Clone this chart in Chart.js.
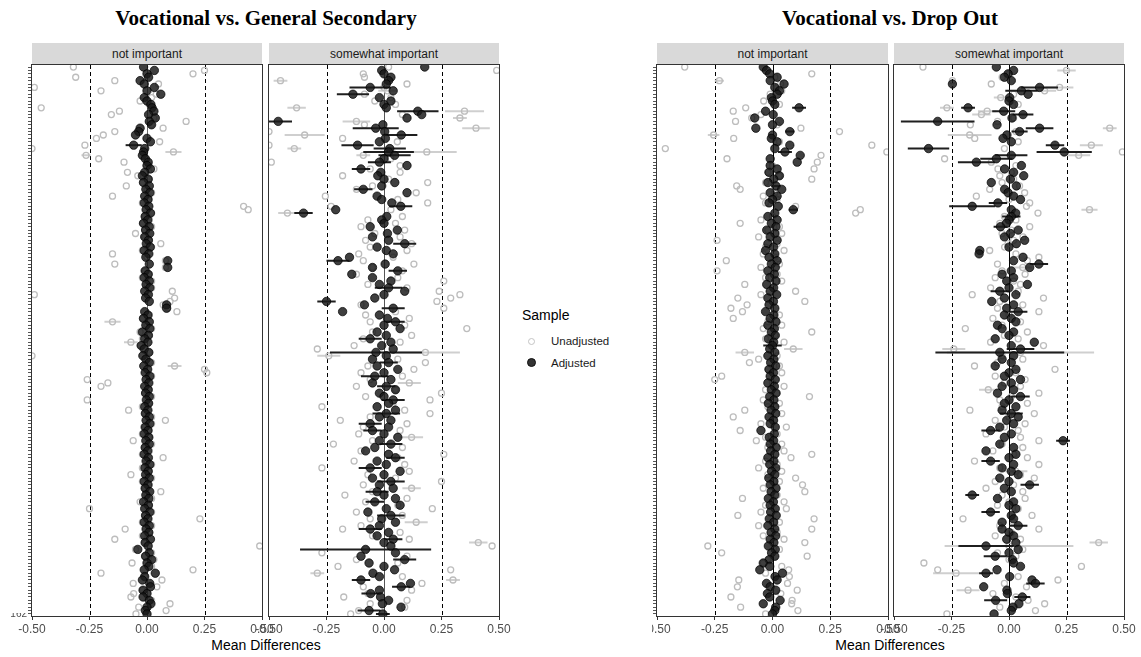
<!DOCTYPE html>
<html>
<head>
<meta charset="utf-8">
<script src="https://cdn.jsdelivr.net/npm/chart.js@4.4.0/dist/chart.umd.min.js"></script>
<style>
  html, body { margin: 0; padding: 0; background: #fff; }
  body { width: 1141px; height: 657px; position: relative; overflow: hidden;
         font-family: "Liberation Sans", Arial, sans-serif; }
  .title { position: absolute; top: 8px; font-family: "Liberation Serif", "Times New Roman", serif;
           font-weight: bold; font-size: 21px; line-height: 21px; color: #000; white-space: nowrap;
           transform: translateX(-50%); }
  .strip { position: absolute; top: 43px; height: 22px; background: #d9d9d9; color: #1a1a1a;
           font-size: 12px; line-height: 22px; text-align: center; white-space: nowrap; }
  .xlab { position: absolute; top: 638px; font-size: 14px; line-height: 14px; color: #000;
          white-space: nowrap; transform: translateX(-50%); }
  canvas.panel { position: absolute; }
  #legend { position: absolute; left: 515px; top: 0; width: 137px; height: 657px; background: #fff; z-index: 5; }
  #legend .lt { position: absolute; left: 7px; top: 308px; font-size: 14px; line-height: 14px; color: #000; }
  #legend .li { position: absolute; left: 36px; font-size: 11.5px; line-height: 12px; color: #1a1a1a; white-space: nowrap; }
  #legend .sym { position: absolute; border-radius: 50%; box-sizing: border-box; }
  #legend .open { left: 13px; top: 338px; width: 7px; height: 7px; border: 1.3px solid #c4c4c4; }
  #legend .fill { left: 12px; top: 358px; width: 9px; height: 9px; background: #333; border: 0.8px solid #111; }
  #cover162 { position: absolute; left: 0; top: 600px; width: 27px; height: 13px; background: #fff; z-index: 4; }
</style>
</head>
<body>
<div class="title" style="left:266px">Vocational vs. General Secondary</div>
<div class="title" style="left:890px">Vocational vs. Drop Out</div>

<div class="strip" style="left:32px;width:230px">not important</div>
<div class="strip" style="left:269px;width:230px">somewhat important</div>
<div class="strip" style="left:657px;width:231px">not important</div>
<div class="strip" style="left:894px;width:230px">somewhat important</div>

<div class="xlab" style="left:266px">Mean Differences</div>
<div class="xlab" style="left:890px">Mean Differences</div>

<div id="legend">
  <div class="lt">Sample</div>
  <span class="sym open"></span><div class="li" style="top:335px">Unadjusted</div>
  <span class="sym fill"></span><div class="li" style="top:357px">Adjusted</div>
</div>
<div id="cover162"></div>

<script>
// ---- x axis ticks (mean differences) ----
const xTicks = [-0.5, -0.25, 0, 0.25, 0.5];
const guideValues = [-0.25, 0.25];
const rowCount = 162;

// ---- Vocational vs. General Secondary, "not important" ----
const gsNotAdj = [
  -0.015, 0.032, 0, 0.007, -0.03, -0.012, 0.032, 0, 0.06, -0.012,
  0, 0.017, 0.022, 0.03, 0.007, 0.036, 0.01, 0.02, -0.03, -0.036,
  -0.05, 0, 0.015, -0.058, -0.01, -0.015, -0.02, -0.007, 0.005, 0,
  0.015, -0.01, -0.02, 0.005, -0.015, 0.01, -0.005, 0.012, -0.01, 0.004,
  -0.012, 0.008, -0.004, 0.015, -0.008, 0.003, -0.015, 0.01, -0.006, 0.012,
  -0.01, 0.006, -0.003, 0.014, -0.012, 0.008, -0.005, 0.09, 0.01, 0.09,
  -0.008, 0.005, -0.012, 0.01, -0.004, 0.012, -0.01, 0.006, -0.006, 0.01,
  0.085, 0.085, -0.01, 0.004, -0.015, 0.01, -0.005, 0.012, -0.02, 0.006,
  -0.01, 0.004, -0.025, -0.012, 0.008, -0.018, -0.005, 0.01, -0.014, 0.003,
  -0.008, 0.012, -0.004, 0.008, -0.01, 0.005, -0.006, 0.01, -0.003, 0.007,
  -0.01, 0.004, -0.007, 0.01, -0.004, 0.012, -0.008, 0.004, -0.012, 0.008,
  -0.005, 0.01, -0.008, 0.003, -0.012, 0.006, -0.004, 0.012, -0.009, 0.005,
  -0.006, 0.01, -0.012, 0.004, -0.008, 0.012, -0.005, 0.008, -0.015, 0.006,
  -0.01, 0.012, -0.006, 0.004, -0.012, 0.01, -0.004, 0.008, -0.01, 0.015,
  -0.008, 0.005, -0.04, 0.01, -0.006, 0.02, 0, 0.008, -0.012, 0.036,
  -0.01, -0.02, 0.012, 0.015, -0.017, 0, -0.017, 0.01, 0.017, 0, -0.007, 0
];
const gsNotUnadj = [
  -0.32, 0.25, 0.2, -0.31, -0.14, 0.05, -0.49, -0.2, 0.04, 0.02,
  -0.03, 0.01, -0.46, -0.12, -0.155, 0.03, 0.17, 0.02, 0.07, -0.14,
  -0.19, -0.22, 0.055, -0.27, -0.5, 0.115, -0.265, -0.21, -0.1, 0.01,
  0.03, -0.085, -0.04, 0.01, -0.02, -0.09, 0.0, 0.02, -0.15, 0.01,
  -0.02, 0.42, 0.44, 0.02, -0.01, 0.01, -0.02, 0.02, -0.01, -0.05,
  -0.01, 0.01, 0.06, 0.02, -0.02, -0.15, 0.0, 0.08, -0.14, 0.08,
  -0.01, 0.01, -0.02, 0.02, 0.0, 0.02, 0.11, -0.49, 0.12, 0.1,
  0.07, 0.09, 0.13, 0.01, -0.02, -0.15, 0.0, 0.02, -0.03, 0.01,
  -0.02, -0.07, -0.03, -0.01, 0.01, -0.5, 0.0, 0.02, 0.12, 0.25,
  0.26, 0.02, -0.26, -0.17, -0.2, 0.01, -0.01, 0.02, -0.26, 0.01,
  -0.02, -0.08, -0.01, 0.02, 0.08, 0.02, -0.01, 0.01, -0.02, 0.01,
  -0.06, 0.02, -0.01, 0.01, -0.02, 0.07, 0.0, 0.02, -0.02, 0.01,
  -0.07, 0.02, -0.02, 0.01, -0.01, 0.06, 0.0, 0.02, -0.03, 0.01,
  -0.25, 0.02, -0.01, 0.23, -0.02, 0.02, -0.095, 0.01, -0.02, -0.14,
  -0.01, 0.49, -0.05, 0.02, -0.01, 0.03, -0.065, 0.02, 0.2, -0.2,
  -0.01, 0.065, -0.06, 0.043, -0.02, -0.058, -0.07, 0.02, 0.1, -0.036, 0.083, -0.048
];
// [row, half width of the interval]
const gsNotAdjErr = [[24, 0.035]];
const gsNotUnadjErr = [[26, 0.035], [27, 0.02], [76, 0.035], [82, 0.03], [89, 0.03]];

// ---- Vocational vs. General Secondary, "somewhat important" ----
const gsSomeAdj = [
  0.177, -0.01, 0.0, 0.03, 0.02, 0.01, -0.06, 0.04, -0.135, -0.02,
  0.03, 0.0, 0.01, 0.147, 0.164, 0.1, -0.46, -0.005, -0.036, 0.003,
  0.075, 0.006, -0.02, -0.115, 0.025, 0.02, 0.046, 0.0, -0.02, 0.1,
  -0.1, -0.014, -0.027, 0.0, 0.047, -0.01, -0.09, 0.1, -0.03, -0.01,
  0.034, 0.073, -0.21, -0.35, 0.012, -0.01, 0.0, -0.06, 0.058, 0.015,
  -0.05, 0.02, 0.09, -0.03, 0.01, 0.04, -0.15, -0.2, 0.005, -0.05,
  0.06, -0.14, -0.05, 0.03, -0.02, 0.02, 0.09, 0.0, -0.04, -0.25,
  -0.085, 0.04, -0.18, -0.02, 0.015, 0.05, 0.0, 0.07, -0.03, 0.01,
  -0.06, 0.03, -0.01, 0.04, -0.035, 0.01, -0.05, 0.02, -0.03, 0.06,
  0.0, -0.04, 0.03, -0.05, 0.01, 0.05, -0.02, 0.0, 0.04, 0.02,
  -0.03, 0.05, 0.01, -0.02, 0.03, -0.06, 0.02, -0.05, 0.0, 0.06,
  -0.02, 0.03, -0.04, -0.08, 0.02, 0.05, -0.03, 0.01, -0.06, 0.07,
  0.0, -0.05, 0.03, -0.02, 0.04, -0.03, 0.0, 0.05, -0.04, 0.07,
  0.01, -0.07, 0.03, -0.01, 0.05, -0.02, -0.06, 0.02, -0.03, 0.04,
  0.0, 0.03, -0.08, 0.05, -0.1, 0.09, -0.065, 0.0, 0.046, -0.048,
  -0.02, -0.1, 0.115, 0.075, -0.02, -0.058, -0.015, 0.02, -0.007, 0.074, -0.065, -0.005
];
const gsSomeUnadj = [
  0.02, 0.49, -0.09, -0.085, -0.45, 0.1, 0.0, 0.015, -0.085, 0.03,
  -0.04, 0.05, -0.38, 0.35, 0.08, 0.33, -0.12, -0.085, 0.4, -0.5,
  -0.345, -0.18, 0.058, -0.5, -0.39, 0.186, -0.09, 0.03, -0.49, 0.07,
  -0.06, 0.07, -0.18, 0.02, 0.19, -0.05, -0.12, 0.14, -0.255, 0.06,
  0.19, -0.23, 0.03, -0.42, 0.08, -0.07, 0.05, -0.1, 0.09, -0.04,
  0.07, -0.08, 0.12, -0.06, 0.1, -0.11, 0.04, -0.09, 0.13, -0.05,
  0.08, -0.12, 0.06, 0.26, -0.07, 0.1, 0.24, 0.33, 0.29, 0.23,
  -0.1, 0.26, 0.05, -0.08, 0.11, -0.06, 0.09, 0.36, -0.05, 0.12,
  -0.09, 0.07, -0.13, -0.29, 0.18, -0.24, 0.06, 0.18, -0.07, 0.13,
  -0.1, 0.08, -0.06, 0.11, -0.12, 0.05, 0.25, -0.08, 0.2, 0.04,
  -0.27, 0.09, 0.2, -0.06, -0.19, 0.1, -0.09, 0.07, -0.11, 0.12,
  -0.05, -0.22, 0.08, -0.1, 0.26, 0.06, -0.13, 0.09, -0.27, 0.11,
  -0.07, 0.05, 0.25, -0.09, 0.12, -0.05, -0.17, 0.1, -0.08, 0.06,
  0.21, -0.12, 0.08, -0.06, 0.14, -0.1, -0.18, 0.07, -0.05, 0.11,
  0.41, 0.47, -0.08, -0.27, 0.1, -0.12, 0.06, -0.2, 0.29, -0.29,
  0.08, 0.3, 0.165, -0.09, 0.12, -0.07, -0.175, 0.1, -0.06, 0.09, -0.11, -0.145
];
const gsSomeAdjErr = [
  [7, 0.09], [9, 0.07], [14, 0.09], [17, 0.06], [19, 0.1], [21, 0.07], [24, 0.07], [25, 0.07],
  [26, 0.11], [27, 0.07], [29, 0.05], [31, 0.04], [37, 0.04], [42, 0.05], [44, 0.04], [53, 0.05],
  [58, 0.05], [61, 0.04], [66, 0.06], [70, 0.04], [72, 0.05], [76, 0.04], [81, 0.05], [85, 0.2],
  [88, 0.04], [92, 0.06], [95, 0.04], [99, 0.05], [103, 0.06], [106, 0.05], [108, 0.04], [112, 0.05],
  [116, 0.04], [119, 0.05], [123, 0.06], [126, 0.05], [129, 0.04], [133, 0.06], [137, 0.05], [140, 0.04],
  [143, 0.285], [146, 0.05], [152, 0.04], [154, 0.04], [156, 0.04], [161, 0.05], [162, 0.03]
];
const gsSomeUnadjErr = [
  [5, 0.03], [8, 0.04], [13, 0.04], [14, 0.085], [16, 0.03], [17, 0.06], [19, 0.06], [21, 0.087],
  [25, 0.03], [26, 0.13], [27, 0.03], [44, 0.04], [85, 0.15], [86, 0.05], [94, 0.05], [110, 0.05],
  [125, 0.04], [135, 0.05], [141, 0.04], [150, 0.03], [152, 0.03]
];

// ---- Vocational vs. Drop Out, "not important" ----
const doNotAdj = [
  -0.04, -0.026, -0.012, 0.02, -0.01, 0.05, 0.01, 0.03, 0.02, -0.005,
  0.0, 0.01, 0.115, -0.03, 0.003, -0.077, 0.03, 0.0, -0.072, 0.075,
  0.0, -0.005, 0.02, 0.075, 0.01, 0.054, 0.12, -0.01, 0.107, -0.01,
  0.02, -0.015, 0.03, 0.005, -0.02, 0.015, 0.04, -0.01, 0.02, 0.0,
  -0.015, 0.025, 0.09, 0.01, -0.02, 0.02, -0.005, 0.015, -0.025, 0.01,
  -0.01, 0.02, -0.02, 0.005, -0.03, 0.01, -0.015, 0.02, -0.005, 0.012,
  -0.02, 0.008, -0.012, 0.015, -0.025, 0.005, -0.01, 0.018, -0.02, 0.004,
  -0.015, 0.01, -0.03, 0.006, -0.01, 0.015, -0.02, 0.008, -0.005, 0.012,
  -0.018, 0.005, 0.0, -0.012, 0.01, -0.02, 0.006, -0.008, 0.014, -0.015,
  0.004, -0.01, 0.012, -0.02, 0.008, -0.005, 0.015, -0.012, 0.006, -0.018,
  0.01, -0.006, 0.014, -0.015, 0.004, -0.01, 0.012, -0.05, 0.008, -0.014,
  0.005, -0.01, 0.016, -0.008, 0.01, -0.02, 0.006, -0.012, 0.014, -0.004,
  0.01, -0.016, 0.006, -0.01, 0.015, -0.006, 0.01, -0.018, 0.004, -0.01,
  0.012, -0.008, 0.016, -0.014, 0.005, -0.02, 0.01, -0.006, 0.014, -0.01,
  0.006, -0.018, 0.012, -0.004, 0.01, -0.014, -0.04, -0.012, -0.055, 0.043,
  0.011, 0.02, -0.026, -0.01, 0.014, -0.022, -0.012, 0.033, -0.04, 0.014, 0.01, 0.0
];
const doNotUnadj = [
  -0.38, -0.02, 0.17, 0.01, -0.23, 0.035, 0.02, 0.04, -0.01, 0.0,
  -0.038, 0.03, -0.116, -0.17, -0.05, -0.09, -0.16, 0.02, 0.123, 0.29,
  -0.255, -0.168, 0.03, 0.43, -0.464, 0.495, 0.21, -0.197, 0.194, 0.0,
  0.18, -0.02, 0.03, 0.17, -0.03, -0.155, -0.14, 0.01, -0.04, 0.02,
  -0.03, 0.1, 0.38, 0.36, 0.0, -0.05, -0.14, 0.03, -0.02, 0.04,
  -0.06, -0.24, 0.02, -0.03, 0.05, -0.04, 0.01, -0.2, 0.03, -0.05,
  -0.24, 0.02, -0.03, 0.04, -0.12, 0.0, 0.1, -0.05, -0.15, 0.14,
  -0.11, -0.18, -0.13, 0.03, -0.17, -0.02, 0.04, -0.04, 0.17, 0.01,
  -0.03, 0.05, -0.01, 0.09, -0.12, 0.02, -0.06, -0.1, 0.03, -0.02,
  0.04, -0.22, -0.25, 0.0, 0.05, -0.03, 0.02, 0.16, -0.04, 0.03,
  -0.02, -0.12, 0.04, -0.17, 0.01, -0.05, 0.06, -0.14, 0.02, -0.03,
  -0.07, 0.04, -0.02, 0.05, 0.17, 0.08, -0.03, 0.02, -0.06, 0.04,
  -0.02, 0.1, 0.03, 0.13, -0.04, 0.14, 0.02, -0.13, 0.05, -0.03,
  0.06, -0.05, -0.15, 0.18, 0.03, -0.06, 0.17, 0.02, -0.04, 0.05,
  0.14, -0.28, 0.03, -0.22, 0.15, -0.02, -0.04, 0.04, 0.07, -0.03,
  0.073, -0.146, 0.065, -0.152, 0.107, 0.036, -0.18, 0.085, 0.083, -0.138, 0.11, -0.03
];
const doNotAdjErr = [[13, 0.03], [20, 0.02], [26, 0.03], [36, 0.02], [43, 0.02], [83, 0.04]];
const doNotUnadjErr = [[5, 0.02], [21, 0.025], [84, 0.04], [85, 0.04]];

// ---- Vocational vs. Drop Out, "somewhat important" ----
const doSomeAdj = [
  -0.055, 0.02, -0.004, -0.02, 0.01, -0.246, 0.133, 0.054, 0.083, 0.003,
  0.0, 0.02, -0.178, -0.023, 0.061, 0.013, -0.31, -0.052, 0.133, 0.046,
  -0.009, -0.026, 0.01, 0.2, -0.35, 0.24, 0.01, -0.055, -0.142, 0.054,
  -0.019, 0.02, 0.064, 0.006, -0.077, 0.032, -0.019, -0.004, 0.02, 0.05,
  -0.048, -0.16, 0.01, 0.029, 0.01, 0.0, -0.011, -0.037, 0.04, 0.006,
  -0.02, 0.068, 0.032, 0.0, -0.127, -0.13, 0.061, 0.02, 0.13, 0.09,
  0.01, -0.03, 0.02, -0.01, 0.08, 0.0, -0.04, 0.03, -0.02, -0.075,
  0.02, -0.01, 0.04, -0.02, 0.01, 0.03, -0.05, -0.03, 0.02, 0.0,
  -0.06, 0.11, 0.01, 0.05, -0.04, 0.02, -0.03, 0.01, -0.06, 0.03,
  0.0, -0.02, 0.05, 0.01, -0.03, 0.02, -0.05, 0.05, 0.0, -0.02,
  0.03, -0.03, 0.01, 0.04, -0.01, 0.02, -0.04, -0.08, 0.01, -0.02,
  0.235, -0.04, 0.02, -0.1, 0.03, 0.0, -0.08, 0.02, -0.03, 0.01,
  0.04, -0.04, 0.0, 0.09, -0.02, 0.01, -0.16, -0.05, 0.02, 0.0,
  0.03, -0.08, 0.01, 0.02, -0.03, 0.04, -0.03, 0.0, 0.02, -0.01,
  0.03, -0.1, 0.04, 0.0, -0.06, 0.015, 0.02, 0.05, -0.052, -0.1,
  0.003, 0.1, 0.115, -0.11, -0.009, -0.007, 0.058, -0.058, 0.043, 0.017, 0.01, -0.065
];
const doSomeUnadj = [
  -0.374, 0.25, 0.0, -0.03, -0.246, -0.077, 0.22, 0.155, 0.02, -0.036,
  0.01, 0.04, -0.27, -0.095, -0.12, 0.02, -0.05, -0.168, 0.438, 0.03,
  -0.171, -0.149, 0.04, 0.358, -0.02, 0.493, 0.303, -0.28, -0.077, 0.03,
  -0.048, 0.01, -0.04, 0.02, -0.03, 0.046, -0.084, 0.068, -0.142, 0.0,
  0.09, 0.076, 0.35, 0.126, -0.02, 0.03, -0.04, 0.09, 0.01, -0.03,
  0.061, 0.02, -0.004, -0.019, -0.084, 0.03, 0.13, 0.08, -0.05, 0.06,
  -0.03, 0.07, -0.06, 0.02, 0.05, -0.08, 0.04, -0.16, 0.15, -0.04,
  0.06, -0.05, 0.13, 0.0, -0.07, 0.05, -0.03, -0.19, 0.08, -0.02,
  0.04, -0.08, 0.15, -0.24, 0.05, -0.03, 0.06, -0.05, -0.15, 0.2,
  0.03, -0.06, 0.07, -0.02, 0.05, -0.09, 0.13, 0.01, -0.04, 0.08,
  -0.03, -0.17, 0.11, 0.0, -0.06, 0.07, -0.02, 0.04, -0.1, 0.05,
  0.13, -0.03, 0.06, -0.07, 0.02, 0.08, -0.15, 0.13, -0.04, 0.03,
  0.05, 0.11, -0.06, 0.02, -0.1, 0.06, -0.03, 0.07, 0.0, -0.05,
  0.04, -0.08, 0.1, -0.2, 0.02, -0.04, 0.13, 0.01, -0.06, 0.05,
  0.39, 0.0, 0.06, -0.05, 0.03, 0.0, -0.37, 0.315, -0.31, -0.23,
  0.04, 0.213, -0.02, 0.076, -0.178, -0.07, 0.03, 0.083, 0.155, -0.04, 0.115, -0.27
];
const doSomeAdjErr = [
  [7, 0.08], [8, 0.07], [13, 0.03], [14, 0.05], [15, 0.045], [17, 0.16], [19, 0.06], [20, 0.035],
  [24, 0.04], [25, 0.09], [26, 0.12], [27, 0.07], [28, 0.07], [29, 0.08], [41, 0.04], [42, 0.1],
  [45, 0.04], [48, 0.03], [59, 0.04], [67, 0.04], [73, 0.04], [84, 0.06], [85, 0.28], [98, 0.04],
  [103, 0.05], [108, 0.04], [111, 0.03], [117, 0.04], [124, 0.04], [127, 0.03], [132, 0.04], [136, 0.04],
  [142, 0.12], [145, 0.05], [150, 0.03], [153, 0.04], [157, 0.035], [158, 0.05]
];
const doSomeUnadjErr = [
  [2, 0.04], [7, 0.06], [8, 0.05], [10, 0.03], [13, 0.03], [14, 0.04], [15, 0.04], [19, 0.03],
  [21, 0.095], [24, 0.05], [27, 0.05], [43, 0.035], [60, 0.04], [84, 0.05], [85, 0.32], [96, 0.04],
  [120, 0.05], [141, 0.04], [142, 0.28], [150, 0.1], [155, 0.05]
];

// ---- drawing ----
Chart.defaults.font.family = '"Liberation Sans", Arial, sans-serif';
const rowTicks = Array.from({ length: rowCount }, (_, i) => i + 1);

const toPoints = vals => vals.map((v, i) => ({ x: v, y: i + 1 }));
// horizontal interval segments, separated by gaps
const toBars = (vals, errs) => errs.flatMap(([r, hw]) => [
  { x: vals[r - 1] - hw, y: r },
  { x: vals[r - 1] + hw, y: r },
  { x: vals[r - 1], y: null }
]);

const frameAndGuides = {
  id: 'frameAndGuides',
  beforeDatasetsDraw(chart, args, opts) {
    const { ctx, chartArea: { top, bottom }, scales: { x } } = chart;
    ctx.save();
    ctx.lineWidth = 1;
    ctx.strokeStyle = '#000';
    ctx.setLineDash([4, 3]);
    guideValues.forEach(v => {
      const px = Math.round(x.getPixelForValue(v)) + 0.5;
      ctx.beginPath(); ctx.moveTo(px, top); ctx.lineTo(px, bottom); ctx.stroke();
    });
    ctx.setLineDash([]);
    ctx.strokeStyle = opts.zeroColor;
    const z = Math.round(x.getPixelForValue(0)) + 0.5;
    ctx.beginPath(); ctx.moveTo(z, top); ctx.lineTo(z, bottom); ctx.stroke();
    ctx.restore();
  },
  afterDraw(chart) {
    const { ctx, chartArea: { left, top, right, bottom } } = chart;
    ctx.save();
    ctx.strokeStyle = '#333';
    ctx.lineWidth = 1;
    ctx.strokeRect(Math.round(left) - 0.5, Math.round(top) - 0.5, Math.round(right - left) + 1, Math.round(bottom - top) + 1);
    ctx.restore();
  }
};

const panels = [
  { left: 32,  width: 230, adj: gsNotAdj,  unadj: gsNotUnadj,  adjErr: gsNotAdjErr,  unadjErr: gsNotUnadjErr,  showY: true,  zero: '#6a6a6a' },
  { left: 269, width: 230, adj: gsSomeAdj, unadj: gsSomeUnadj, adjErr: gsSomeAdjErr, unadjErr: gsSomeUnadjErr, showY: false, zero: '#555' },
  { left: 657, width: 231, adj: doNotAdj,  unadj: doNotUnadj,  adjErr: doNotAdjErr,  unadjErr: doNotUnadjErr,  showY: true,  zero: '#000' },
  { left: 894, width: 230, adj: doSomeAdj, unadj: doSomeUnadj, adjErr: doSomeAdjErr, unadjErr: doSomeUnadjErr, showY: false, zero: '#000' }
];

const SIDE = 30, TOP = 55, PAD_TOP = 10, X_AXIS_H = 41;

panels.forEach(p => {
  const cv = document.createElement('canvas');
  cv.className = 'panel';
  cv.width = p.width + 2 * SIDE;
  cv.height = 657 - TOP;
  cv.style.left = (p.left - SIDE) + 'px';
  cv.style.top = TOP + 'px';
  cv.style.width = cv.width + 'px';
  cv.style.height = cv.height + 'px';
  document.body.appendChild(cv);

  new Chart(cv, {
    type: 'scatter',
    data: {
      datasets: [
        { label: 'Adjusted', data: toPoints(p.adj), order: 0, clip: 0,
          pointRadius: 4.2, pointHoverRadius: 4.2, backgroundColor: 'rgba(26,26,26,0.84)',
          borderColor: 'rgba(0,0,0,0.9)', borderWidth: 0.8 },
        { type: 'line', label: 'Adjusted interval', data: toBars(p.adj, p.adjErr), order: 1, clip: 0,
          showLine: true, spanGaps: false, pointRadius: 0, borderColor: '#1f1f1f', borderWidth: 2, fill: false },
        { label: 'Unadjusted', data: toPoints(p.unadj), order: 2, clip: 0,
          pointRadius: 3, pointHoverRadius: 3, backgroundColor: 'rgba(255,255,255,0)',
          borderColor: '#bdbdbd', borderWidth: 1.3 },
        { type: 'line', label: 'Unadjusted interval', data: toBars(p.unadj, p.unadjErr), order: 3, clip: 0,
          showLine: true, spanGaps: false, pointRadius: 0, borderColor: '#cfcfcf', borderWidth: 2, fill: false }
      ]
    },
    options: {
      responsive: false,
      animation: false,
      devicePixelRatio: 1,
      events: [],
      // the y axis box always keeps SIDE px on the left (hidden or not)
      layout: { padding: { left: 0, right: SIDE, top: PAD_TOP, bottom: 0 } },
      plugins: { legend: { display: false }, tooltip: { enabled: false }, frameAndGuides: { zeroColor: p.zero } },
      scales: {
        x: {
          type: 'linear', min: -0.5, max: 0.5,
          afterBuildTicks: s => { s.ticks = xTicks.map(v => ({ value: v })); },
          afterFit: s => { s.height = X_AXIS_H; },
          grid: { drawOnChartArea: false, drawTicks: true, tickLength: 4, tickColor: '#333', tickWidth: 1 },
          border: { display: false },
          ticks: { autoSkip: false, maxRotation: 0, padding: 2, color: '#4d4d4d',
                   font: { size: 12 }, callback: v => Number(v).toFixed(2) }
        },
        y: {
          type: 'linear', reverse: true, min: 0.4, max: rowCount + 0.6,
          display: p.showY,
          afterBuildTicks: s => { s.ticks = rowTicks.map(v => ({ value: v })); },
          afterFit: s => { s.width = SIDE; },
          grid: { drawOnChartArea: false, drawTicks: true, tickLength: 4, tickColor: '#555', tickWidth: 1 },
          border: { display: false },
          ticks: { autoSkip: false, padding: 1, color: '#4d4d4d', font: { size: 10 },
                   callback: v => (v === rowCount ? String(rowCount) : '') }
        }
      }
    },
    plugins: [frameAndGuides]
  });
});
</script>
</body>
</html>
